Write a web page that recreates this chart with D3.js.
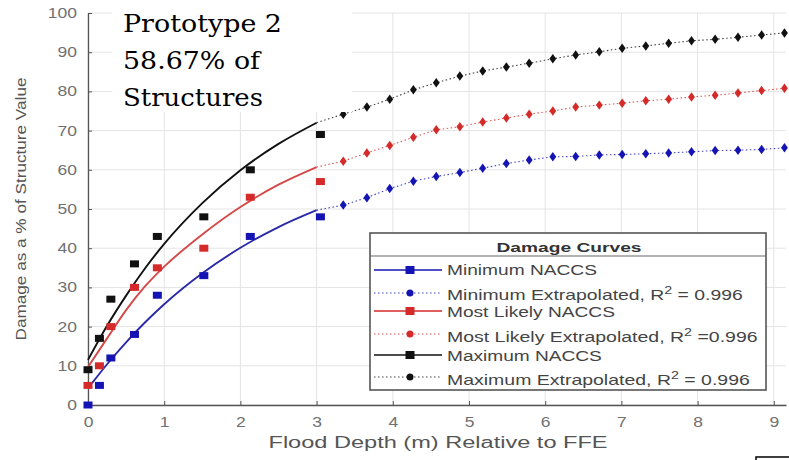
<!DOCTYPE html>
<html><head><meta charset="utf-8">
<script src="https://cdn.jsdelivr.net/npm/d3@7"></script>
<style>
html,body{margin:0;padding:0;background:#fff;}
svg{display:block;}
</style></head>
<body><svg id="c" width="789" height="460"></svg>
<script>
// ---- data ----
const xTicks = [0,1,2,3,4,5,6,7,8,9];
const yTicks = [0,10,20,30,40,50,60,70,80,90,100];

const naccsDepth = [0, 0.15, 0.30, 0.61, 0.91, 1.52, 2.13, 3.05];
const minNACCS    = [0, 5, 12, 18, 28, 33, 43, 48];
const likelyNACCS = [5, 10, 20, 30, 35, 40, 53, 57];
const maxNACCS    = [9, 17, 27, 36, 43, 48, 60, 69];

const fitDepthMin = [0.05, 0.25, 0.5, 0.75, 1, 1.5, 2, 2.5, 3];
const fitDepth    = [0, 0.25, 0.5, 0.75, 1, 1.5, 2, 2.5, 3];
const minFit    = [5.5, 10.4, 16.0, 21.1, 25.7, 33.6, 40.1, 45.4, 49.7];
const likelyFit = [9.7, 17.0, 24.2, 30.3, 35.3, 43.5, 50.5, 56.2, 60.7];
const maxFit    = [11.5, 20.2, 27.9, 34.9, 41.1, 51.5, 59.9, 66.6, 72.0];

const extDepth = [3.35,3.66,3.96,4.27,4.57,4.88,5.18,5.49,5.79,6.10,6.40,6.71,7.01,7.32,7.62,7.92,8.23,8.53,8.84,9.14];
const minExt    = [51,52.9,55.2,57.1,58.3,59.3,60.4,61.6,62.5,63.3,63.4,63.8,63.9,64.1,64.3,64.6,64.9,65.0,65.2,65.6];
const likelyExt = [62.2,64.3,66.2,68.3,70.2,71.0,72.2,73.2,74.2,75.0,76.0,76.5,77.0,77.6,78.0,78.6,79.0,79.6,80.2,80.8];
const maxExt    = [74.2,76.0,78.0,80.4,82.2,83.9,85.2,86.2,87.2,88.3,89.3,90.1,91.0,91.6,92.3,92.9,93.3,93.8,94.4,94.9];

const legendLabels = ["Minimum NACCS","Minimum Extrapolated, R","Most Likely NACCS","Most Likely Extrapolated, R","Maximum NACCS","Maximum Extrapolated, R"];
const legendTails  = [null," = 0.996",null," =0.996",null," = 0.996"];
const titleLines = ["Prototype 2","58.67% of","Structures"];

// ---- drawing ----
const svg = d3.select("#c");
const x = d3.scaleLinear().domain([0, 9.16]).range([88, 786]);
const y = d3.scaleLinear().domain([0, 100]).range([405, 13]);

const colBlue = "#1414b4", colRed = "#d42a2a", colBlack = "#111111";
const lineBlue = "#2a2aa8", lineRed = "#d44848";

function stretch(sel, w){
  sel.each(function(){
    const n = this.getComputedTextLength();
    const ax = +this.getAttribute("x");
    const k = w / n;
    this.setAttribute("transform", `translate(${ax},0) scale(${k},1) translate(${-ax},0)`);
  });
}

// grid
const g = svg.append("g");
g.selectAll(".gx").data(xTicks).join("line")
  .attr("x1", d=>x(d)).attr("x2", d=>x(d)).attr("y1", y(100)).attr("y2", y(0))
  .attr("stroke", "#e4e4e4").attr("stroke-width", 1);
g.selectAll(".gy").data(yTicks).join("line")
  .attr("x1", x(0)).attr("x2", x(9.16)).attr("y1", d=>y(d)).attr("y2", d=>y(d))
  .attr("stroke", "#e4e4e4").attr("stroke-width", 1);

// axes
const xAxis = d3.axisBottom(x).tickValues(xTicks).tickSizeInner(-4).tickSizeOuter(0).tickPadding(12);
const yAxis = d3.axisLeft(y).tickValues(yTicks).tickSizeInner(-4).tickSizeOuter(0).tickPadding(8);
const gx = svg.append("g").attr("transform", `translate(0,${y(0)})`).call(xAxis);
const gy = svg.append("g").attr("transform", `translate(${x(0)},0)`).call(yAxis);
[gx, gy].forEach(a=>{
  a.select(".domain").attr("stroke", "#555").attr("stroke-width", 1.3);
  a.selectAll(".tick line").attr("stroke", "#555");
  a.selectAll(".tick text").attr("fill", "#707070").attr("font-family", "Liberation Sans, Arial, sans-serif").attr("font-size", 14);
});
gx.selectAll(".tick text").attr("transform", "scale(1.25,1)");
gy.selectAll(".tick text").attr("transform", "translate(-1,0) scale(1.25,1)");

// axis labels
svg.append("text").attr("x", 438).attr("y", 448).attr("text-anchor", "middle")
  .attr("font-family", "Liberation Sans, Arial, sans-serif").attr("font-size", 16).attr("fill", "#555")
  .attr("textLength", 339).attr("lengthAdjust", "spacingAndGlyphs")
  .text("Flood Depth (m) Relative to FFE");
svg.append("text").attr("transform", "translate(26,209) rotate(-90)").attr("text-anchor", "middle")
  .attr("font-family", "Liberation Sans, Arial, sans-serif").attr("font-size", 15).attr("fill", "#555")
  .attr("textLength", 263).attr("lengthAdjust", "spacingAndGlyphs")
  .text("Damage as a % of Structure Value");

// fitted curves
const lineGen = d3.line().x(d=>x(d[0])).y(d=>y(d[1])).curve(d3.curveMonotoneX);
const fits = [
  {xs: fitDepthMin, ys: minFit, c: lineBlue},
  {xs: fitDepth, ys: likelyFit, c: lineRed},
  {xs: fitDepth, ys: maxFit, c: colBlack}
];
fits.forEach(f=>{
  svg.append("path").datum(f.xs.map((v,i)=>[v, f.ys[i]])).attr("d", lineGen)
    .attr("fill", "none").attr("stroke", f.c).attr("stroke-width", 1.9);
});

// extrapolated dotted lines + diamonds
const exts = [
  {ys: minExt, fit: minFit, c: colBlue},
  {ys: likelyExt, fit: likelyFit, c: colRed},
  {ys: maxExt, fit: maxFit, c: colBlack}
];
exts.forEach(e=>{
  const pts = [[fitDepth[fitDepth.length-1], e.fit[e.fit.length-1]]].concat(extDepth.map((v,i)=>[v, e.ys[i]]));
  svg.append("path").datum(pts).attr("d", d3.line().x(d=>x(d[0])).y(d=>y(d[1])))
    .attr("fill", "none").attr("stroke", e.c).attr("stroke-width", 1.1).attr("stroke-dasharray", "1.5,2.5").attr("opacity", 0.8);
  svg.selectAll(null).data(extDepth.map((v,i)=>[v, e.ys[i]])).join("path")
    .attr("transform", d=>`translate(${x(d[0])},${y(d[1])}) scale(1.25,1)`)
    .attr("d", d3.symbol(d3.symbolDiamond, 26)).attr("fill", e.c);
});

// NACCS squares
const sq = [
  {ys: minNACCS, c: colBlue},
  {ys: likelyNACCS, c: colRed},
  {ys: maxNACCS, c: colBlack}
];
sq.forEach(s=>{
  svg.selectAll(null).data(naccsDepth.map((v,i)=>[v, s.ys[i]])).join("rect")
    .attr("x", d=>x(d[0])-4.5).attr("y", d=>y(d[1])-3.5).attr("width", 9).attr("height", 7)
    .attr("fill", s.c);
});

// title overlay
svg.append("rect").attr("x", 112).attr("y", 0).attr("width", 240).attr("height", 112).attr("fill", "#fff");
const tl = svg.append("g");
const tBase = [32, 69, 106], tW = [159, 137, 140];
titleLines.forEach((t,i)=>{
  tl.append("text").attr("x", 123).attr("y", tBase[i])
    .attr("font-family", "DejaVu Serif, serif").attr("font-size", 25).attr("fill", "#000")
    .attr("textLength", tW[i]).attr("lengthAdjust", "spacingAndGlyphs").text(t);
});

// legend
const lg = svg.append("g");
lg.append("rect").attr("x", 370).attr("y", 233).attr("width", 396).attr("height", 157)
  .attr("fill", "#fff").attr("stroke", "#555").attr("stroke-width", 1.6);
lg.append("line").attr("x1", 370).attr("x2", 766).attr("y1", 256).attr("y2", 256).attr("stroke", "#666").attr("stroke-width", 1.2);
lg.append("text").attr("x", 569).attr("y", 252).attr("text-anchor", "middle")
  .attr("font-family", "Liberation Sans, Arial, sans-serif").attr("font-weight", "bold").attr("font-size", 13).attr("fill", "#333")
  .attr("textLength", 145).attr("lengthAdjust", "spacingAndGlyphs").text("Damage Curves");

const legY = [270, 293, 311, 334, 355, 377];
const legBase = [275, 300, 317, 342, 361, 385];
const legW = [150, 296, 168, 311, 155, 303];
const legCol = [colBlue, colBlue, colRed, colRed, colBlack, colBlack];
legendLabels.forEach((lab,i)=>{
  const dotted = i % 2 === 1;
  lg.append("line").attr("x1", 374).attr("x2", 442).attr("y1", legY[i]).attr("y2", legY[i])
    .attr("stroke", legCol[i]).attr("stroke-width", dotted ? 1 : 1.4)
    .attr("stroke-dasharray", dotted ? "1.5,2.5" : null).attr("opacity", dotted ? 0.8 : 1);
  if (dotted) {
    lg.append("circle").attr("cx", 410).attr("cy", legY[i]).attr("r", 3.5).attr("fill", legCol[i]);
  } else {
    lg.append("rect").attr("x", 405.5).attr("y", legY[i]-4).attr("width", 9).attr("height", 8).attr("fill", legCol[i]);
  }
  const t = lg.append("text").attr("x", 447).attr("y", legBase[i])
    .attr("font-family", "Liberation Sans, Arial, sans-serif").attr("font-size", 15).attr("fill", "#444");
  t.append("tspan").text(lab);
  if (legendTails[i]) {
    t.append("tspan").attr("dy", -6).attr("font-size", 11).text("2");
    t.append("tspan").attr("dy", 6).text(legendTails[i]);
  }
  stretch(t, legW[i]);
});

// small box fragment at bottom right
svg.append("rect").attr("x", 756).attr("y", 457).attr("width", 40).attr("height", 10)
  .attr("fill", "none").attr("stroke", "#000").attr("stroke-width", 1.5);
</script>
</body></html>
